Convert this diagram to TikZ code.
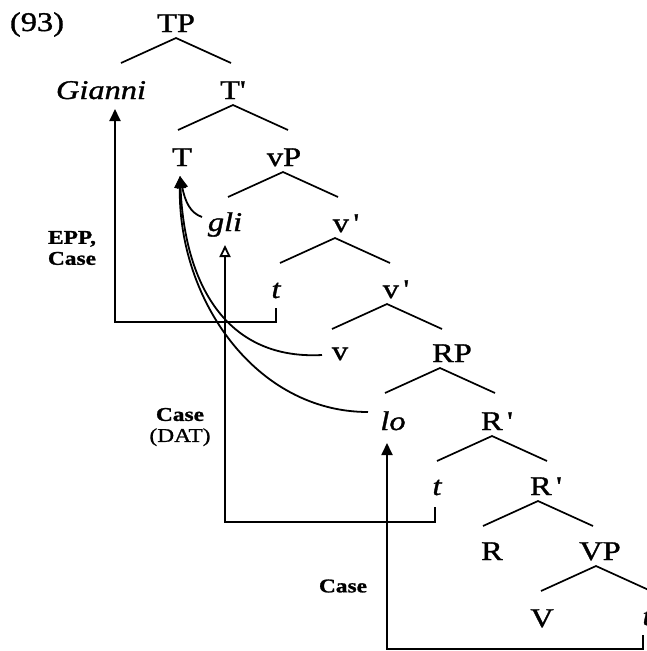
\documentclass[tikz,border=0pt]{standalone}
\usepackage{fontspec}
\newfontfamily\treefont{Liberation Serif}[FakeStretch=1.2, FakeBold=1.2]
\usetikzlibrary{arrows.meta, calc}

\begin{document}
\begin{tikzpicture}[
  x=1pt, y=-1pt,
  cat/.style={anchor=base, inner sep=0pt, font=\treefont\fontsize{27}{28}\selectfont},
  wrd/.style={cat, font=\treefont\itshape\fontsize{27}{28}\selectfont},
  feat/.style={align=center, inner sep=0pt, font=\treefont\bfseries\fontsize{19.5}{21}\selectfont},
  branch/.style={line width=1.7pt},
  move/.style={line width=1.8pt, -{Triangle[length=12pt, width=11pt]}},
  moveopen/.style={line width=1.8pt, -{Triangle[open, length=12pt, width=11pt]}}
]
  \useasboundingbox (0,0) rectangle (647,651);
  \clip (0,0) rectangle (647,651);

  \node[cat] (ex) at (37,31) {(93)};
  % tree
  \node[cat] (TP) at (176,32) {TP};
  \node[wrd] (Gianni) at (101,99) {Gianni};
  \node[cat] (Tbar) at (233,99) {T'};
  \node[cat] (T) at (182,166) {T};
  \node[cat] (vP) at (284,166) {vP};
  \node[wrd] (gli) at (225,231) {gli};
  \node[cat] (vbarA) at (346,232) {v\,'};
  \node[wrd] (tA) at (276,298) {t};
  \node[cat] (vbarB) at (396,298) {v\,'};
  \node[cat] (v) at (340,360) {v};
  \node[cat] (RP) at (452,362) {RP};
  \node[wrd] (lo) at (393,430) {lo};
  \node[cat] (Rbar) at (497,430) {R\,'};
  \node[wrd] (tB) at (437,495) {t};
  \node[cat] (RbarB) at (546,495) {R\,'};
  \node[cat] (R) at (492,560) {R};
  \node[cat] (VP) at (600,560) {VP};
  \node[cat] (V) at (542,627) {V};
  \node[wrd] (tC) at (647,625) {t};

  \foreach \p/\dx in {TP/0, Tbar/0, vP/-1, vbarA/-11, vbarB/-9, RP/-12, Rbar/-5, RbarB/-8, VP/-4}
    \draw[branch] ($(\p.base)+(\dx-55,31)$) -- ($(\p.base)+(\dx,6)$) -- ($(\p.base)+(\dx+55,31)$);

  % movement
  \draw[move] ($(tA.base)+(0,10)$) -- ++(0,14) -| ($(Gianni.base)+(14,10)$);
  \draw[moveopen] ($(tB.base)+(-2,12)$) -- ++(0,15) -| ($(gli.base)+(0,14)$);
  \draw[move] ($(tC.base)+(-4,10)$) -- ++(0,14) -| ($(lo.base)+(-6,13)$);

  \coordinate (Tin) at ($(T.base)+(-2,10)$);
  \draw[move] ($(gli.base)+(-23,-14)$) .. controls +(-12,-4) and +(5,25) .. (Tin);
  \draw[move] ($(v.base)+(-18,-5)$) .. controls +(-92,5) and +(5,114) .. (Tin);
  \draw[move] ($(lo.base)+(-25,-18)$) .. controls +(-112,0) and +(-2,124) .. (Tin);

  \node[feat] (eppcase) at (72,248) {EPP,\\Case};
  \node[feat] (casedat) at (180,427) {Case\\{\mdseries\fontsize{19.5}{21}\selectfont (DAT)}};
  \node[feat] (caselo) at (343,586) {Case};
\end{tikzpicture}
\end{document}
